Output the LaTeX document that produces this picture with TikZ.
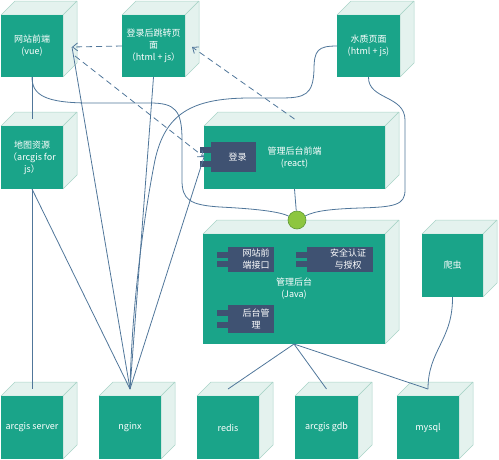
\documentclass[tikz,border=0pt]{standalone}
\usepackage{fontspec}
\setmainfont{Noto Sans CJK SC}
\usetikzlibrary{arrows.meta,calc}
\definecolor{teal1}{HTML}{1AA489}
\definecolor{side}{HTML}{E4F2EE}
\definecolor{sideb}{HTML}{A9D4C8}
\definecolor{compc}{HTML}{3F5272}
\definecolor{linec}{HTML}{50769A}
\definecolor{ballf}{HTML}{8DC63F}
\definecolor{ballb}{HTML}{5E9936}
\tikzset{
 front/.style={fill=teal1, draw=none, inner sep=0pt, outer sep=0pt, text=white, align=center, font=\fontsize{9}{12}\selectfont, anchor=north west},
 faceside/.style={fill=side, draw=sideb, line width=0.5pt, line join=round},
 conn/.style={draw=linec, line width=0.8pt},
 dep/.style={conn, dash pattern=on 6pt off 4pt, -{Straight Barb[length=5pt,width=8pt]}},
 compbody/.style={fill=compc, inner sep=0pt, outer sep=0pt, anchor=north west},
 comptext/.style={text=white, align=center, font=\fontsize{9}{12}\selectfont},
 ball/.style={circle, fill=ballf, draw=ballb, line width=0.6pt, minimum size=18pt, inner sep=0pt},
}
\newcommand\cubebox[6]{%
 \path[faceside] (#2,#3) -- ++(14,-14) -- (#4+14,#3-14) -- (#4,#3) -- cycle;
 \path[faceside] (#4,#3) -- (#4+14,#3-14) -- (#4+14,#5-14) -- (#4,#5) -- cycle;
 \node[front, minimum width={#4-#2}, minimum height={#5-#3}] (#1) at (#2,#3) {#6};
 \coordinate (#1-t) at ({(#2+#4)/2},#3-7);
}
\newcommand\compo[7]{%
 \fill[compc] (#2-11,#3+5) rectangle (#2+2,#3+11);
 \fill[compc] (#2-11,#5-11) rectangle (#2+2,#5-5);
 \node[compbody, minimum width={#4-#2}, minimum height={#5-#3}, label={[comptext, xshift=#7]center:{#6}}] (#1) at (#2,#3) {};
}
\begin{document}
\begin{tikzpicture}[x=1pt,y=-1pt]
\useasboundingbox (0,0) rectangle (499,459);
% cubes
\cubebox{web}{1}{15}{63}{77}{网站前端\\(vue)}
\cubebox{jump}{122}{15}{185}{77}{登录后跳转页\\面\\（html + js）}
\cubebox{water}{337}{15}{400}{77}{水质页面\\(html + js)}
\cubebox{map}{1}{126}{63}{189}{地图资源\\（arcgis for\\js）}
\cubebox{admfe}{204}{126}{385}{189}{管理后台前端\\(react)}
\cubebox{adm}{203}{234}{385}{344}{管理后台\\(Java)}
\cubebox{crawler}{422}{234}{483}{297}{爬虫}
\cubebox{arcs}{1}{396}{63}{459}{arcgis server}
\cubebox{nginx}{99}{396}{161}{459}{nginx}
\cubebox{redis}{197}{396}{259}{459}{redis}
\cubebox{gdb}{295}{396}{358}{459}{arcgis gdb}
\cubebox{mysql}{397}{396}{459}{459}{mysql}
% components
\compo{login}{211}{142}{256}{172}{登录}{4pt}
\compo{cweb}{228}{247}{274}{272}{网站前\\端接口}{5pt}
\compo{csec}{307}{247}{373}{272}{安全认证\\与授权}{8pt}
\compo{cadm}{228}{305}{274}{333}{后台管\\理}{5pt}
% interface ball
\node[ball] (ball) at (297,220) {};
% helper coordinates on side faces
\coordinate (webr) at (72,47);
\coordinate (webr2) at (75,56);
\coordinate (jumpr) at (192,47);
\coordinate (loginin) at (204,157);
% solid connectors
\draw[conn] (web.south) -- (map-t);
\draw[conn] (map.south) -- (arcs-t);
\draw[conn] (map.south) -- (nginx-t);
\draw[conn] (webr) -- (nginx-t);
\draw[conn] (jump.south) -- (nginx-t);
\draw[conn] (loginin) -- (nginx-t);
\draw[conn] (water.west) .. controls (318,46) and (314,50) .. (314,70)
  .. controls (313,95) and (305,98) .. (280,98) -- (250,98)
  .. controls (190,98) and (165,115) .. (155,160)
  .. controls (145,210) and (132,300) .. (nginx-t);
\draw[conn] (web.south) .. controls (32,95) and (45,103) .. (90,103) -- (150,103)
  .. controls (175,103) and (182,110) .. (182,140) -- (182,180)
  .. controls (182,200) and (190,205) .. (220,207)
  .. controls (260,209) and (280,212) .. (ball);
\draw[conn] (admfe.south) -- (ball);
\draw[conn] (water.south) .. controls (368,100) and (405,95) .. (405,120) -- (405,190)
  .. controls (405,205) and (395,207) .. (360,208)
  .. controls (330,209) and (315,211) .. (ball);
\draw[conn] (adm.south) -- (redis-t);
\draw[conn] (adm.south) -- (gdb-t);
\draw[conn] (adm.south) -- (mysql-t);
\draw[conn] (crawler.south) .. controls (453,340) and (428,350) .. (mysql-t);
% dependencies
\draw[dep] (jump.west) -- (webr);
\draw[dep] (webr2) -- (loginin);
\draw[dep] (admfe-t) -- (jumpr);
\end{tikzpicture}
\end{document}
